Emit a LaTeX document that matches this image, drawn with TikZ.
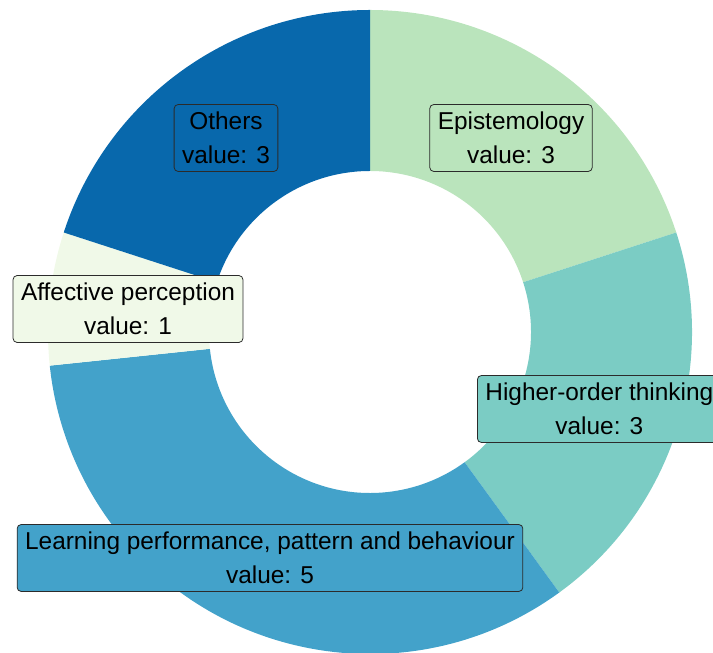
\documentclass[tikz,border=0pt]{standalone}
\usepackage{fontspec}
\setmainfont{Liberation Sans}
\definecolor{episcol}{HTML}{BAE4BC}
\definecolor{highcol}{HTML}{7BCCC4}
\definecolor{learncol}{HTML}{43A2CA}
\definecolor{affcol}{HTML}{F0F9E8}
\definecolor{othcol}{HTML}{0868AC}
\definecolor{boxline}{HTML}{2B2B2B}
\tikzset{
  valbox/.style={draw=boxline, line width=0.8pt, rounded corners=4pt, align=center,
    inner xsep=8pt, inner ysep=7.5pt, font=\fontsize{24.4}{34}\selectfont}
}
\newcommand{\donutslice}[3]{%
  \fill[#3] (#1:\rout) arc (#1:#2:\rout) -- (#2:\rin) arc (#2:#1:\rin) -- cycle;}
\begin{document}
\begin{tikzpicture}[x=1pt,y=1pt]
\def\rout{322}
\def\rin{161}
\useasboundingbox (0,0) rectangle (713,653);
\clip (0,0) rectangle (713,653);

% ring, clockwise from the top
\begin{scope}[shift={(370,321)}]
\donutslice{90}{18}{episcol}
\donutslice{18}{-54}{highcol}
\donutslice{-54}{-174}{learncol}
\donutslice{-174}{-198}{affcol}
\donutslice{-198}{-270}{othcol}
\end{scope}

% labels
\node[valbox, fill=othcol] (others) at (226,515) {Others\\value: 3};
\node[valbox, fill=episcol] (epis) at (511,515) {Epistemology\\value: 3};
\node[valbox, fill=affcol] (affect) at (128,344) {Affective perception\\value: 1};
\node[valbox, fill=highcol, anchor=west] (higher) at (477,244) {Higher-order thinking\\value: 3};
\node[valbox, fill=learncol] (learning) at (270,95) {Learning performance, pattern and behaviour\\value: 5};

\end{tikzpicture}
\end{document}
